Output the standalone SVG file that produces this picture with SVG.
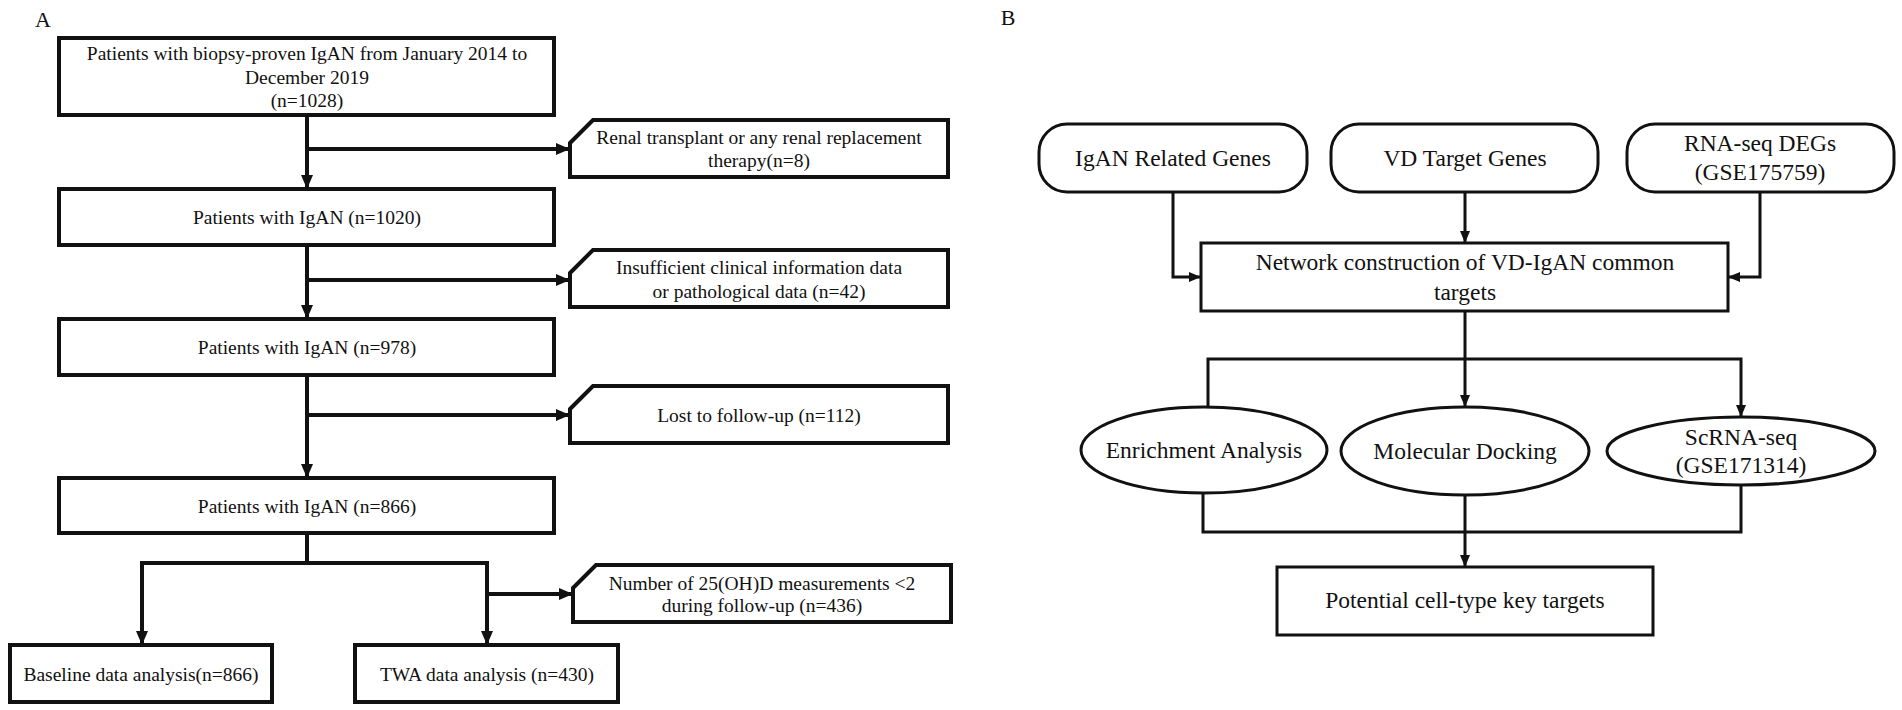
<svg xmlns="http://www.w3.org/2000/svg" width="1902" height="710" viewBox="0 0 1902 710">
<style>
text{font-family:"Liberation Serif","Times New Roman",serif;fill:#111;text-anchor:middle}
.l{font-size:19.5px}
.r{font-size:23.5px}
.lb{fill:#fff;stroke:#111;stroke-width:4}
.rb{fill:#fff;stroke:#111;stroke-width:3}
.lc{fill:none;stroke:#111;stroke-width:4}
.rc{fill:none;stroke:#111;stroke-width:3}
</style>
<defs>
<marker id="ah" markerUnits="userSpaceOnUse" markerWidth="14" markerHeight="14" viewBox="0 0 14 14" refX="14" refY="7" orient="auto"><path d="M0,1 L14,7 L0,13 Z" fill="#111"/></marker>
<marker id="ahs" markerUnits="userSpaceOnUse" markerWidth="12" markerHeight="12" viewBox="0 0 12 12" refX="12" refY="6" orient="auto"><path d="M0,1 L12,6 L0,11 Z" fill="#111"/></marker>
</defs>
<rect width="1902" height="710" fill="#fff"/>
<text x="43" y="27" style="font-size:22px">A</text>
<text x="1008" y="25" style="font-size:22px">B</text>
<g id="connectors">
<path class="lc" d="M307,115 V189" marker-end="url(#ah)"/>
<path class="lc" d="M307,149 H570" marker-end="url(#ah)"/>
<path class="lc" d="M307,245 V319" marker-end="url(#ah)"/>
<path class="lc" d="M307,280 H570" marker-end="url(#ah)"/>
<path class="lc" d="M307,375 V478" marker-end="url(#ah)"/>
<path class="lc" d="M307,415 H570" marker-end="url(#ah)"/>
<path class="lc" d="M307,533 V563"/>
<path class="lc" d="M142,563 H487"/>
<path class="lc" d="M142,561 V645" marker-end="url(#ah)"/>
<path class="lc" d="M487,561 V645" marker-end="url(#ah)"/>
<path class="lc" d="M487,594 H573" marker-end="url(#ah)"/>
<path class="rc" d="M1173,192 V277 H1201" marker-end="url(#ahs)"/>
<path class="rc" d="M1465,192 V243" marker-end="url(#ahs)"/>
<path class="rc" d="M1760,192 V277 H1728" marker-end="url(#ahs)"/>
<path class="rc" d="M1465,311 V407" marker-end="url(#ahs)"/>
<path class="rc" d="M1208,407 V359 H1741 V417" marker-end="url(#ahs)"/>
<path class="rc" d="M1203,493 V532 H1741 V485"/>
<path class="rc" d="M1465,495 V567" marker-end="url(#ahs)"/>
</g>
<g id="n1"><rect class="lb" x="59" y="38" width="495" height="77"/>
<text class="l" x="307" y="60">Patients with biopsy-proven IgAN from January 2014 to</text>
<text class="l" x="307" y="84">December 2019</text>
<text class="l" x="307" y="107">(n=1028)</text></g>
<g id="n2"><rect class="lb" x="59" y="189" width="495" height="56"/><text class="l" x="307" y="224">Patients with IgAN (n=1020)</text></g>
<g id="n3"><rect class="lb" x="59" y="319" width="495" height="56"/><text class="l" x="307" y="354">Patients with IgAN  (n=978)</text></g>
<g id="n4"><rect class="lb" x="59" y="478" width="495" height="55"/><text class="l" x="307" y="513">Patients with IgAN  (n=866)</text></g>
<g id="n5"><rect class="lb" x="10" y="645" width="262" height="57"/><text class="l" x="141" y="681">Baseline data analysis(n=866)</text></g>
<g id="n6"><rect class="lb" x="355" y="645" width="263" height="57"/><text class="l" x="487" y="681">TWA data analysis (n=430)</text></g>
<g id="s1"><path class="lb" d="M570,143 L593,120 H948 V177 H570 Z"/>
<text class="l" x="759" y="144">Renal transplant or any renal replacement</text>
<text class="l" x="759" y="167">therapy(n=8)</text></g>
<g id="s2"><path class="lb" d="M570,273 L593,250 H948 V307 H570 Z"/>
<text class="l" x="759" y="274">Insufficient clinical information data</text>
<text class="l" x="759" y="298">or pathological data (n=42)</text></g>
<g id="s3"><path class="lb" d="M570,409 L593,386 H948 V443 H570 Z"/>
<text class="l" x="759" y="422">Lost to follow-up (n=112)</text></g>
<g id="s4"><path class="lb" d="M573,588 L596,565 H951 V622 H573 Z"/>
<text class="l" x="762" y="590">Number of 25(OH)D measurements &lt;2</text>
<text class="l" x="762" y="612">during follow-up (n=436)</text></g>
<g id="r1"><rect class="rb" x="1039" y="124" width="268" height="68" rx="28"/><text class="r" x="1173" y="166">IgAN Related Genes</text></g>
<g id="r2"><rect class="rb" x="1331" y="124" width="267" height="68" rx="28"/><text class="r" x="1465" y="166">VD Target Genes</text></g>
<g id="r3"><rect class="rb" x="1627" y="124" width="267" height="68" rx="28"/><text class="r" x="1760" y="151">RNA-seq DEGs</text><text class="r" x="1760" y="180">(GSE175759)</text></g>
<g id="r4"><rect class="rb" x="1201" y="243" width="527" height="68"/><text class="r" x="1465" y="270">Network construction of VD-IgAN common</text><text class="r" x="1465" y="300">targets</text></g>
<g id="e1"><ellipse class="rb" cx="1204" cy="450" rx="123" ry="43"/><text class="r" x="1204" y="458">Enrichment Analysis</text></g>
<g id="e2"><ellipse class="rb" cx="1465" cy="451" rx="124" ry="44"/><text class="r" x="1465" y="459">Molecular Docking</text></g>
<g id="e3"><ellipse class="rb" cx="1741" cy="451" rx="134" ry="34"/><text class="r" x="1741" y="445">ScRNA-seq</text><text class="r" x="1741" y="473">(GSE171314)</text></g>
<g id="r5"><rect class="rb" x="1277" y="567" width="376" height="68"/><text class="r" x="1465" y="608">Potential cell-type key targets</text></g>
</svg>
